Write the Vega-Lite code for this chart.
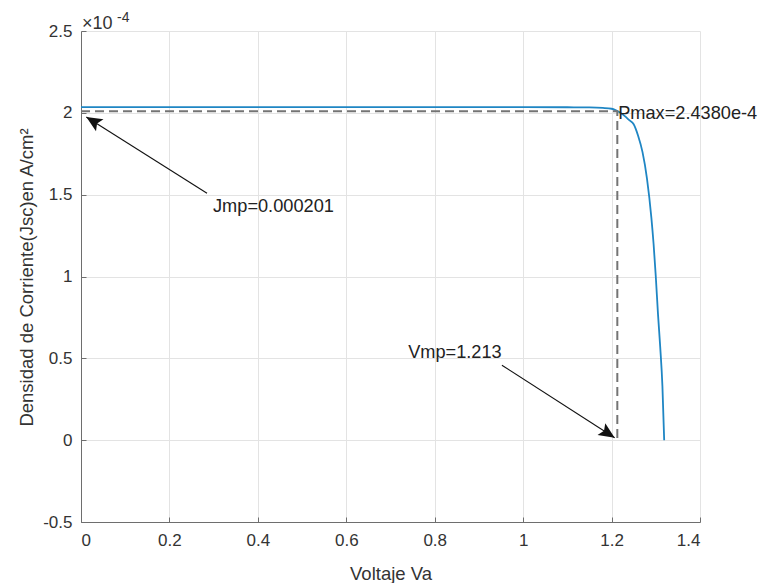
{
  "$schema": "https://vega.github.io/schema/vega-lite/v6.json",
  "width": 619,
  "height": 491,
  "autosize": "none",
  "padding": {"left": 81, "top": 31, "right": 60, "bottom": 61},
  "background": "white",
  "config": {
    "font": "Liberation Sans",
    "view": {"stroke": null},
    "axis": {
      "domainColor": "#6e6e6e",
      "domainWidth": 1,
      "tickColor": "#6e6e6e",
      "tickSize": -5,
      "gridColor": "#e3e3e3",
      "gridWidth": 1,
      "labelFont": "Liberation Sans",
      "labelFontSize": 17,
      "labelColor": "#333333",
      "titleFont": "Liberation Sans",
      "titleFontSize": 18.5,
      "titleFontWeight": "normal",
      "titleColor": "#333333"
    }
  },
  "datasets": {
    "curve": [
      {"V": 0, "J": 2.035}, {"V": 0.1, "J": 2.035}, {"V": 0.2, "J": 2.035}, {"V": 0.3, "J": 2.035},
      {"V": 0.4, "J": 2.035}, {"V": 0.5, "J": 2.035}, {"V": 0.6, "J": 2.035}, {"V": 0.7, "J": 2.035},
      {"V": 0.8, "J": 2.035}, {"V": 0.9, "J": 2.035}, {"V": 1.0, "J": 2.035}, {"V": 1.1, "J": 2.034},
      {"V": 1.15, "J": 2.033}, {"V": 1.18, "J": 2.03}, {"V": 1.2, "J": 2.025}, {"V": 1.21, "J": 2.015},
      {"V": 1.22, "J": 2.0}, {"V": 1.23, "J": 1.98}, {"V": 1.24, "J": 1.955}, {"V": 1.25, "J": 1.93},
      {"V": 1.26, "J": 1.86}, {"V": 1.27, "J": 1.76}, {"V": 1.28, "J": 1.6}, {"V": 1.29, "J": 1.36},
      {"V": 1.295, "J": 1.2}, {"V": 1.3, "J": 1.0}, {"V": 1.305, "J": 0.77}, {"V": 1.31, "J": 0.57},
      {"V": 1.315, "J": 0.33}, {"V": 1.319, "J": 0.0}
    ],
    "dash": [
      {"o": 1, "V": 0, "J": 2.01},
      {"o": 2, "V": 1.213, "J": 2.01},
      {"o": 3, "V": 1.213, "J": 0}
    ],
    "arrows": [
      {"a": "Jmp", "o": 1, "V": 0.285, "J": 1.509},
      {"a": "Jmp", "o": 2, "V": 0.012, "J": 1.975},
      {"a": "Vmp", "o": 1, "V": 0.952, "J": 0.458},
      {"a": "Vmp", "o": 2, "V": 1.207, "J": 0.015}
    ],
    "labels": [
      {"txt": "Jmp=0.000201", "V": 0.2986, "J": 1.423},
      {"txt": "Vmp=1.213", "V": 0.74, "J": 0.53},
      {"txt": "Pmax=2.4380e-4", "V": 1.215, "J": 1.99}
    ]
  },
  "layer": [
    {
      "data": {"name": "curve"},
      "mark": {"type": "line", "color": "#1f86c4", "strokeWidth": 1.8, "interpolate": "monotone"},
      "encoding": {
        "x": {
          "field": "V", "type": "quantitative",
          "scale": {"domain": [0, 1.4], "nice": false, "zero": false},
          "axis": {
            "values": [0, 0.2, 0.4, 0.6, 0.8, 1, 1.2, 1.4],
            "labelExpr": "toString(datum.value)",
            "labelPadding": 15,
            "title": "Voltaje Va",
            "titleY": 57,
            "titleBaseline": "alphabetic"
          }
        },
        "y": {
          "field": "J", "type": "quantitative",
          "scale": {"domain": [-0.5, 2.5], "nice": false, "zero": false},
          "axis": {
            "values": [-0.5, 0, 0.5, 1, 1.5, 2, 2.5],
            "labelExpr": "toString(datum.value)",
            "labelPadding": 14,
            "title": "Densidad de Corriente(Jsc)en A/cm²",
            "titleAngle": -90,
            "titleX": -49,
            "titleY": 246,
            "titleAlign": "center",
            "titleBaseline": "alphabetic"
          }
        }
      }
    },
    {
      "data": {"name": "dash"},
      "mark": {"type": "line", "color": "#747474", "strokeWidth": 2, "strokeDash": [9, 5]},
      "encoding": {
        "x": {"field": "V", "type": "quantitative"},
        "y": {"field": "J", "type": "quantitative"},
        "order": {"field": "o"}
      }
    },
    {
      "data": {"name": "arrows"},
      "mark": {"type": "line", "color": "#111111", "strokeWidth": 1.1},
      "encoding": {
        "x": {"field": "V", "type": "quantitative"},
        "y": {"field": "J", "type": "quantitative"},
        "detail": {"field": "a"},
        "order": {"field": "o"}
      }
    },
    {
      "data": {"name": "arrows"},
      "transform": [{"filter": "datum.a == 'Jmp' && datum.o == 2"}],
      "mark": {"type": "point", "shape": "M0,0L-0.45,1L0,0.8L0.45,1Z", "filled": true, "color": "#111111", "opacity": 1, "size": 1000, "angle": 301.8, "strokeWidth": 0},
      "encoding": {
        "x": {"field": "V", "type": "quantitative"},
        "y": {"field": "J", "type": "quantitative"}
      }
    },
    {
      "data": {"name": "arrows"},
      "transform": [{"filter": "datum.a == 'Vmp' && datum.o == 2"}],
      "mark": {"type": "point", "shape": "M0,0L-0.45,1L0,0.8L0.45,1Z", "filled": true, "color": "#111111", "opacity": 1, "size": 1000, "angle": 122.9, "strokeWidth": 0},
      "encoding": {
        "x": {"field": "V", "type": "quantitative"},
        "y": {"field": "J", "type": "quantitative"}
      }
    },
    {
      "data": {"name": "labels"},
      "mark": {"type": "text", "align": "left", "baseline": "middle", "fontSize": 18.2, "color": "#222222", "font": "Liberation Sans"},
      "encoding": {
        "x": {"field": "V", "type": "quantitative"},
        "y": {"field": "J", "type": "quantitative"},
        "text": {"field": "txt"}
      }
    },
    {
      "data": {"values": [{"V": 0, "J": 2.5, "t": "×10"}]},
      "mark": {"type": "text", "align": "left", "baseline": "alphabetic", "fontSize": 18, "color": "#333333", "dx": 1, "dy": -2},
      "encoding": {
        "x": {"field": "V", "type": "quantitative"},
        "y": {"field": "J", "type": "quantitative"},
        "text": {"field": "t"}
      }
    },
    {
      "data": {"values": [{"V": 0, "J": 2.5, "t": "-4"}]},
      "mark": {"type": "text", "align": "left", "baseline": "alphabetic", "fontSize": 14, "color": "#333333", "dx": 36, "dy": -9},
      "encoding": {
        "x": {"field": "V", "type": "quantitative"},
        "y": {"field": "J", "type": "quantitative"},
        "text": {"field": "t"}
      }
    }
  ]
}
